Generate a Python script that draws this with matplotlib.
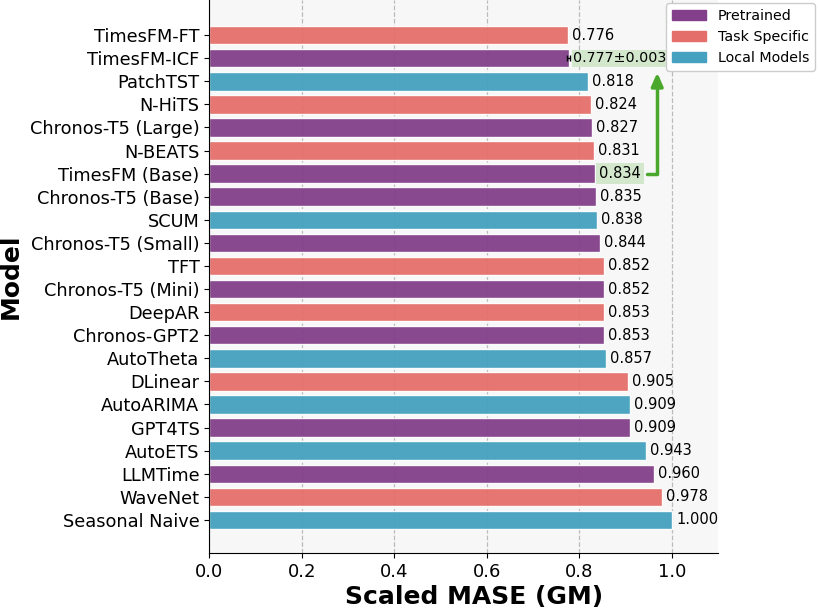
import matplotlib
matplotlib.use("Agg")
import matplotlib.pyplot as plt
import matplotlib.patches as mpatches

models = ["TimesFM-FT", "TimesFM-ICF", "PatchTST", "N-HiTS", "Chronos-T5 (Large)",
          "N-BEATS", "TimesFM (Base)", "Chronos-T5 (Base)", "SCUM", "Chronos-T5 (Small)",
          "TFT", "Chronos-T5 (Mini)", "DeepAR", "Chronos-GPT2", "AutoTheta", "DLinear",
          "AutoARIMA", "GPT4TS", "AutoETS", "LLMTime", "WaveNet", "Seasonal Naive"]
values = [0.776, 0.777, 0.818, 0.824, 0.827, 0.831, 0.834, 0.835, 0.838, 0.844,
          0.852, 0.852, 0.853, 0.853, 0.857, 0.905, 0.909, 0.909, 0.943, 0.960,
          0.978, 1.000]
kinds = ["Task Specific", "Pretrained", "Local Models", "Task Specific", "Pretrained",
         "Task Specific", "Pretrained", "Pretrained", "Local Models", "Pretrained",
         "Task Specific", "Pretrained", "Task Specific", "Pretrained", "Local Models",
         "Task Specific", "Local Models", "Pretrained", "Local Models", "Pretrained",
         "Task Specific", "Local Models"]
icf_err = 0.003

COLORS = {
    "Pretrained": "#833f8a",
    "Task Specific": "#e46f6a",
    "Local Models": "#45a1bf",
}
GREEN = "#4aa82c"

fig = plt.figure(figsize=(8.2, 6.11), dpi=100)
ax = fig.add_axes([0.255, 0.095, 0.621, 0.905])
ax.set_facecolor("#f7f7f7")

y = list(range(len(models)))
ax.barh(y, values, height=0.8, color=[COLORS[k] for k in kinds],
        edgecolor="white", linewidth=1.0, alpha=0.95, zorder=2)

# error bar on the ICF result
icf = models.index("TimesFM-ICF")
ax.errorbar(values[icf], icf, xerr=icf_err, fmt="none", ecolor="black",
            elinewidth=1.0, capsize=2, zorder=3)

base = models.index("TimesFM (Base)")
for i, v in enumerate(values):
    if i == icf:
        ax.text(v + 0.009, i, f"{v:.3f}\u00b1{icf_err:.3f}", va="center", ha="left",
                fontsize=10.3, zorder=4,
                bbox=dict(boxstyle="square,pad=0.1", fc="#d3e7cc", ec="none"))
    elif i == base:
        ax.text(v + 0.009, i, f"{v:.3f}", va="center", ha="left", fontsize=10.5, zorder=4,
                bbox=dict(boxstyle="square,pad=0.2", fc="#d3e7cc", ec="none"))
    else:
        ax.text(v + 0.009, i, f"{v:.3f}", va="center", ha="left", fontsize=10.5, zorder=4)

# arrow from TimesFM (Base) up to TimesFM-ICF
ax.annotate("", xy=(0.968, icf + 0.62), xytext=(0.945, base),
            arrowprops=dict(arrowstyle="-|>,head_width=0.35,head_length=0.8",
                            color=GREEN, lw=2.5, shrinkA=0, shrinkB=0,
                            connectionstyle="angle,angleA=0,angleB=90,rad=0"),
            zorder=5)

ax.set_yticks(y)
ax.set_yticklabels(models, fontsize=12.8)
ax.set_ylim(len(models) - 1 + 1.43, -1.52)
ax.set_xlim(0, 1.1)
ax.set_xticks([0.0, 0.2, 0.4, 0.6, 0.8, 1.0])
ax.tick_params(axis="x", labelsize=13)
ax.grid(axis="x", color="#bbbbbb", linestyle="--", linewidth=0.9, zorder=0)
ax.set_axisbelow(True)

for s in ["top", "right"]:
    ax.spines[s].set_visible(False)

ax.set_xlabel("Scaled MASE (GM)", fontsize=18, fontweight="bold")
ax.xaxis.set_label_coords(0.52, -0.058)
ax.set_ylabel("Model", fontsize=18, fontweight="bold")
ax.yaxis.set_label_coords(-0.366, 0.5)

handles = [mpatches.Patch(color=COLORS[k], label=k)
           for k in ["Pretrained", "Task Specific", "Local Models"]]
ax.legend(handles=handles, loc="upper right", bbox_to_anchor=(1.195, 1.0),
          fontsize=10.3, borderaxespad=0.2, framealpha=1.0, handlelength=2.4)

fig.savefig("out.png", dpi=100)
